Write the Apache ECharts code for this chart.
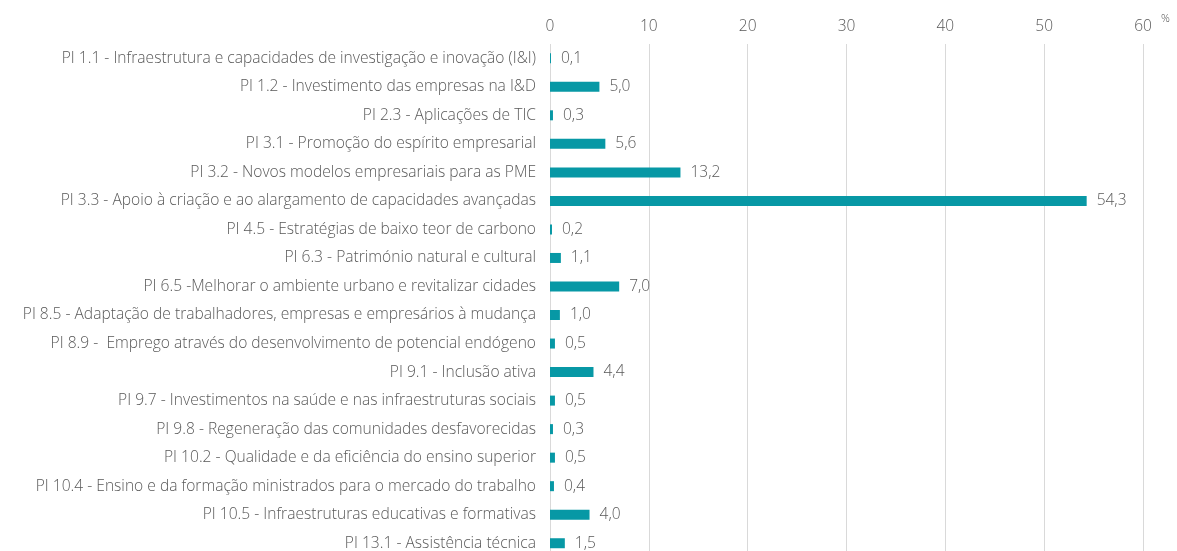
<!DOCTYPE html>
<html>
<head>
<meta charset="utf-8">
<script src="https://cdn.jsdelivr.net/npm/echarts@6/dist/echarts.min.js"></script>
<style>
  html, body { margin: 0; padding: 0; background: #fff; }
  #chart { width: 1177px; height: 551px; }
</style>
</head>
<body>
<div id="chart"></div>
<script>
  // categorias (de cima para baixo)
  var categories = [
    'PI 1.1 - Infraestrutura e capacidades de investigação e inovação (I&I)',
    'PI 1.2 - Investimento das empresas na I&D',
    'PI 2.3 - Aplicações de TIC',
    'PI 3.1 - Promoção do espírito empresarial',
    'PI 3.2 - Novos modelos empresariais para as PME',
    'PI 3.3 - Apoio à criação e ao alargamento de capacidades avançadas',
    'PI 4.5 - Estratégias de baixo teor de carbono',
    'PI 6.3 - Património natural e cultural',
    'PI 6.5 -Melhorar o ambiente urbano e revitalizar cidades',
    'PI 8.5 - Adaptação de trabalhadores, empresas e empresários à mudança',
    'PI 8.9 -  Emprego através do desenvolvimento de potencial endógeno',
    'PI 9.1 - Inclusão ativa',
    'PI 9.7 - Investimentos na saúde e nas infraestruturas sociais',
    'PI 9.8 - Regeneração das comunidades desfavorecidas',
    'PI 10.2 - Qualidade e da eficiência do ensino superior',
    'PI 10.4 - Ensino e da formação ministrados para o mercado do trabalho',
    'PI 10.5 - Infraestruturas educativas e formativas',
    'PI 13.1 - Assistência técnica'
  ];
  var values = [0.1, 5.0, 0.3, 5.6, 13.2, 54.3, 0.2, 1.1, 7.0, 1.0, 0.5, 4.4, 0.5, 0.3, 0.5, 0.4, 4.0, 1.5];
  var xTicks = [0, 10, 20, 30, 40, 50, 60];

  var grey = '#595959';
  var font = 'Open Sans';
  var myChart = echarts.init(document.getElementById('chart'));
  var option = {
    animation: false,
    textStyle: { fontFamily: font },
    grid: { left: 550, right: 34, top: 44, height: 513.5, containLabel: false, outerBoundsMode: 'none' },
    xAxis: {
      type: 'value',
      position: 'top',
      min: xTicks[0],
      max: xTicks[xTicks.length - 1],
      interval: 10,
      name: '%',
      nameLocation: 'end',
      nameGap: 18,
      nameTextStyle: { color: grey, fontSize: 11, fontWeight: 300, verticalAlign: 'bottom', padding: [0, 0, 20, 0] },
      axisLine: { show: false },
      axisTick: { show: false },
      axisLabel: { color: grey, fontSize: 15.5, fontWeight: 300, margin: 9 },
      splitLine: { show: true, lineStyle: { color: '#d9d9d9', width: 1 } }
    },
    yAxis: {
      type: 'category',
      inverse: true,
      data: categories,
      axisLine: { show: false },
      axisTick: { show: false },
      axisLabel: { color: grey, fontSize: 15.6, fontWeight: 300, margin: 14 }
    },
    series: [
      {
        type: 'bar',
        data: values,
        barWidth: 10,
        itemStyle: { color: '#0798a5' },
        label: {
          show: true,
          position: 'right',
          distance: 10,
          color: grey,
          fontSize: 15.5,
          fontWeight: 300,
          formatter: function (p) { return p.value.toFixed(1).replace('.', ','); }
        }
      }
    ]
  };
  myChart.setOption(option);
</script>
</body>
</html>
